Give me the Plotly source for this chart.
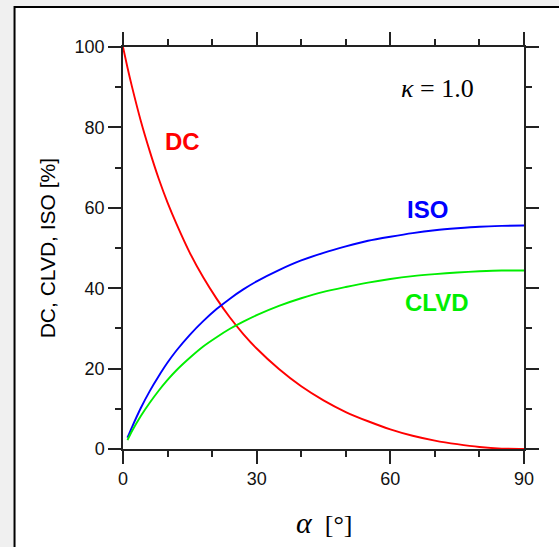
import plotly.graph_objects as go

# slope angle alpha [deg]
alpha_dc = [0, 1, 2, 4, 6, 8, 10, 12, 15, 18, 21, 24, 27, 30, 35, 40, 45, 50, 55, 60, 65, 70, 75, 80, 85, 90]
dc_vals = [100, 94.9, 90.2, 81.6, 74.1, 67.3, 61.3, 56.0, 48.8, 42.7, 37.4, 32.7, 28.6, 25.0, 19.9, 15.6, 12.1, 9.2, 6.9, 4.9, 3.3, 2.1, 1.2, 0.5, 0.1, 0.0]

alpha_nd = [1, 2, 4, 6, 8, 10, 12, 15, 18, 21, 24, 27, 30, 35, 40, 45, 50, 55, 60, 65, 70, 75, 80, 85, 90]
iso_vals = [2.8, 5.4, 10.2, 14.4, 18.1, 21.5, 24.5, 28.4, 31.8, 34.8, 37.4, 39.7, 41.7, 44.5, 46.9, 48.8, 50.4, 51.8, 52.8, 53.7, 54.4, 54.9, 55.3, 55.5, 55.6]
clvd_vals = [2.2, 4.4, 8.2, 11.5, 14.5, 17.2, 19.6, 22.7, 25.5, 27.8, 29.9, 31.7, 33.3, 35.6, 37.5, 39.1, 40.3, 41.4, 42.3, 43.0, 43.5, 43.9, 44.2, 44.4, 44.4]

x_ticks = [0, 30, 60, 90]
y_ticks = [0, 20, 40, 60, 80, 100]

RED = "#ff0000"
BLUE = "#0000ff"
GREEN = "#00ee00"
AXC = "#222222"

fig = go.Figure()
fig.add_trace(go.Scatter(x=alpha_dc, y=dc_vals, mode="lines",
                         line=dict(color=RED, width=1.9, shape="spline", smoothing=0.6)))
fig.add_trace(go.Scatter(x=alpha_nd, y=iso_vals, mode="lines",
                         line=dict(color=BLUE, width=1.9, shape="spline", smoothing=0.6)))
fig.add_trace(go.Scatter(x=alpha_nd, y=clvd_vals, mode="lines",
                         line=dict(color=GREEN, width=1.9, shape="spline", smoothing=0.6)))

axis_common = dict(
    showgrid=False, zeroline=False, showline=True, linecolor=AXC, linewidth=1.5,
    mirror="ticks", ticks="outside", ticklen=13, tickwidth=1.5, tickcolor=AXC,
    tickfont=dict(family="Liberation Sans, Arial, sans-serif", size=18, color="#111111"),
    minor=dict(ticks="outside", ticklen=6, tickwidth=1.5, tickcolor=AXC, dtick=10, showgrid=False),
)

fig.update_xaxes(range=[0, 90], tickvals=x_ticks, ticktext=[str(v) for v in x_ticks], **axis_common)
fig.update_yaxes(range=[0, 100], tickvals=y_ticks, ticktext=[str(v) for v in y_ticks], **axis_common)

sans = "Liberation Sans, Arial, sans-serif"
serif = "Liberation Serif, Times New Roman, serif"

annotations = [
    dict(x=13.3, y=76.4, xref="x", yref="y", text="<b>DC</b>", showarrow=False,
         xanchor="center", yanchor="middle", font=dict(family=sans, size=24, color=RED)),
    dict(x=68.4, y=59.7, xref="x", yref="y", text="<b>ISO</b>", showarrow=False,
         xanchor="center", yanchor="middle", font=dict(family=sans, size=24, color=BLUE)),
    dict(x=70.5, y=36.4, xref="x", yref="y", text="<b>CLVD</b>", showarrow=False,
         xanchor="center", yanchor="middle", font=dict(family=sans, size=24, color=GREEN)),
    dict(x=70.6, y=89.6, xref="x", yref="y", text="<i>κ</i> = 1.0", showarrow=False,
         xanchor="center", yanchor="middle", font=dict(family=serif, size=26, color="#000000")),
    dict(x=0.501, y=-0.1816, xref="paper", yref="paper",
         text="<i><span style='font-size:30px'>α</span></i>\u00a0\u00a0[°]",
         showarrow=False, xanchor="center", yanchor="middle",
         font=dict(family=serif, size=26, color="#000000")),
    dict(x=-0.1886, y=0.5, xref="paper", yref="paper", text="DC, CLVD, ISO [%]",
         textangle=-90, showarrow=False, xanchor="center", yanchor="middle",
         font=dict(family=sans, size=21, color="#000000")),
]

# white panel with black border (extends past right/bottom edges)
shapes = [
    dict(type="rect", xref="paper", yref="paper",
         x0=(15 - 123.3) / 400.4, x1=1.2, y0=-0.4, y1=(449 - 7) / 402,
         fillcolor="white", line=dict(color="black", width=2), layer="below"),
]

fig.update_layout(
    width=559, height=547, autosize=False,
    margin=dict(l=123, r=35, t=47, b=98),
    paper_bgcolor="#f0f0f0", plot_bgcolor="white",
    showlegend=False,
    annotations=annotations, shapes=shapes,
)

fig.write_html(
    "out.html",
    config={"displayModeBar": False},
    post_script="document.body.style.margin='0';document.body.style.background='#f0f0f0';",
)
